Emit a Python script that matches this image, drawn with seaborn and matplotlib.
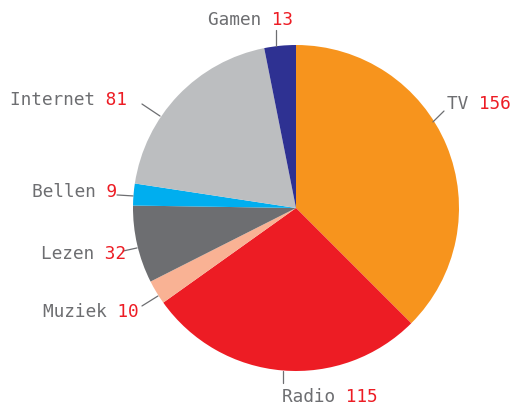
import matplotlib

matplotlib.use("Agg")

import matplotlib.pyplot as plt  # noqa: E402
import seaborn as sns  # noqa: E402

# data (clockwise from the top)
categories = ["TV", "Radio", "Muziek", "Lezen", "Bellen", "Internet", "Gamen"]
values = [156, 115, 10, 32, 9, 81, 13]
colors = ["#F7941D", "#ED1C24", "#F9B294", "#6D6E71", "#00AEEF", "#BCBEC0", "#2E3192"]

# label layout: text anchor (x, y, ha) and leader line (inner, outer), in pie units
label_pos = {
    "TV": (0.925, 0.645, "left"),
    "Radio": (-0.085, -1.155, "left"),
    "Muziek": (-0.965, -0.63, "right"),
    "Lezen": (-1.045, -0.276, "right"),
    "Bellen": (-1.10, 0.107, "right"),
    "Internet": (-1.755, 0.667, "left"),
    "Gamen": (-0.02, 1.16, "right"),
}
leaders = {
    "TV": ((0.84, 0.528), (0.908, 0.595)),
    "Radio": ((-0.08, -1.0), (-0.08, -1.074)),
    "Muziek": ((-0.847, -0.54), (-0.945, -0.601)),
    "Lezen": ((-0.975, -0.245), (-1.061, -0.264)),
    "Bellen": ((-1.0, 0.074), (-1.098, 0.08)),
    "Internet": ((-0.834, 0.564), (-0.945, 0.638)),
    "Gamen": ((-0.123, 0.995), (-0.123, 1.09)),
}

sns.set_theme(style="white")
plt.rcParams["font.family"] = ["DejaVu Sans Mono", "DejaVu Sans"]

GRAY = "#6D6E71"
RED = "#ED1C24"

fig = plt.figure(figsize=(5.13, 4.06), dpi=100)
r_px = 163
cx, cy = 296, 209
ax = fig.add_axes([(cx - r_px) / 513, (406 - cy - r_px) / 406, 2 * r_px / 513, 2 * r_px / 406])
ax.pie(values, colors=colors, startangle=90, counterclock=False, radius=1,
       wedgeprops=dict(linewidth=0))
ax.set_xlim(-1, 1)
ax.set_ylim(-1, 1)
ax.set_aspect("equal")
ax.axis("off")

for name, val in zip(categories, values):
    x, y, ha = label_pos[name]
    num = str(val)
    # monospace font: pad with spaces so the two colours line up
    ax.text(x, y, name + " " * (len(num) + 1), color=GRAY, fontsize=12.8,
            ha=ha, va="center", clip_on=False)
    ax.text(x, y, " " * (len(name) + 1) + num, color=RED, fontsize=12.8,
            ha=ha, va="center", clip_on=False)
    (x0, y0), (x1, y1) = leaders[name]
    ax.plot([x0, x1], [y0, y1], color=GRAY, lw=0.9, clip_on=False)

fig.savefig("out.png", dpi=100)
